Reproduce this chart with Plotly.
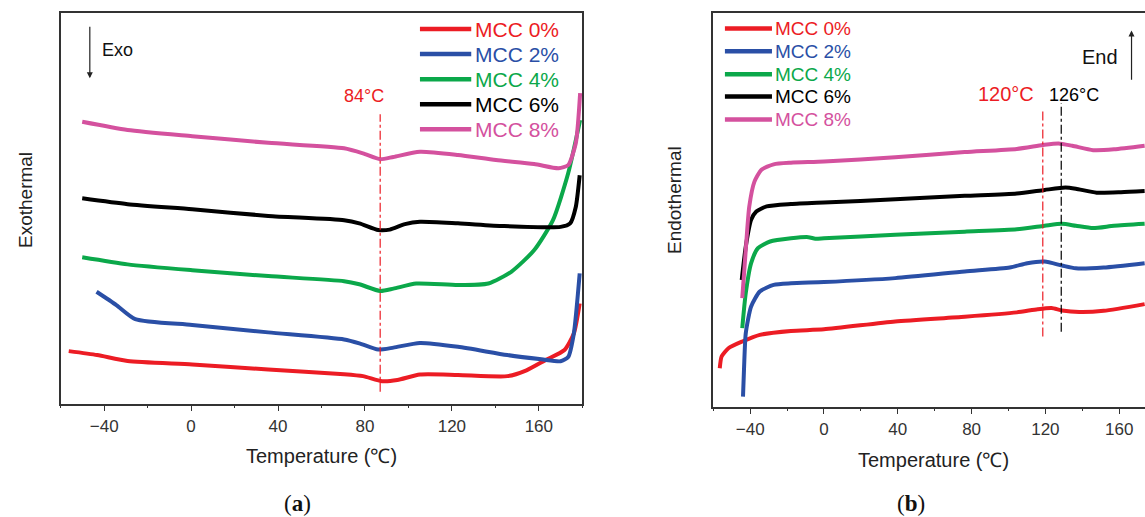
import plotly.graph_objects as go

W, H = 1145, 517

series_names = ["MCC 0%", "MCC 2%", "MCC 4%", "MCC 6%", "MCC 8%"]
colors = ["#EC1C24", "#2A4FA6", "#0BA84A", "#000000", "#D4519E"]

# ---- Panel (a): exothermal (cooling) curves, arbitrary units 0..100 ----
a_x = {
    "MCC 0%": [-56.3, -43.2, -29.2, 0.5, 35.5, 70.4, 79.1, 87.9, 94.9, 105.3, 122.8, 145.5, 154.3, 163, 171.8, 176.1, 178.8],
    "MCC 2%": [-43.5, -34.4, -25.7, 0.5, 35.5, 70.4, 77.4, 86.1, 93.1, 105.3, 122.8, 145.5, 161.2, 170, 173.5, 176.1, 178.8],
    "MCC 4%": [-50.1, -29.2, 0.5, 35.5, 70.4, 77.4, 87, 93.1, 103.6, 122.8, 136.8, 147.3, 157.8, 166.5, 173.5, 179],
    "MCC 6%": [-50.1, -29.2, 0.5, 35.5, 70.4, 77.4, 86.1, 91.4, 98.4, 105.3, 122.8, 143.8, 170, 174.4, 177, 178.8],
    "MCC 8%": [-50.1, -29.2, 0.5, 35.5, 70.4, 79.1, 87, 93.1, 105.3, 122.8, 140.3, 157.8, 169.1, 173.5, 177, 179],
}
a_y = {
    "MCC 0%": [13.4, 12.4, 10.9, 10.0, 8.7, 7.5, 7.0, 5.7, 6.0, 7.4, 7.3, 7.0, 8.5, 11.1, 13.7, 17.9, 25.6],
    "MCC 2%": [28.6, 25.2, 21.6, 20.1, 18.2, 16.4, 15.4, 13.8, 14.3, 15.5, 14.5, 12.4, 11.3, 10.8, 11.9, 17.9, 33.3],
    "MCC 4%": [37.4, 35.6, 34.1, 32.6, 31.3, 30.5, 28.8, 29.4, 30.7, 30.3, 30.7, 33.7, 39.2, 46.9, 58.9, 72.5],
    "MCC 6%": [52.5, 51.0, 49.7, 48.0, 46.9, 46.1, 44.4, 44.5, 45.9, 46.5, 46.1, 45.4, 45.2, 46.1, 50.3, 58.4],
    "MCC 8%": [72.1, 70.0, 68.4, 66.7, 65.3, 64.0, 62.5, 63.1, 64.4, 63.6, 62.3, 61.3, 60.2, 61.0, 66.6, 79.4],
}

# ---- Panel (b): endothermal (heating) curves ----
b_x = {
    "MCC 0%": [-56.5, -55.5, -51.8, -44.3, -34.8, -17.9, 0, 38.6, 76.3, 104.5, 115.8, 123.3, 129, 138.4, 151.6, 173.8],
    "MCC 2%": [-43.9, -43.3, -42.4, -39.5, -34.8, -27.3, -17.9, 0, 38.6, 76.3, 100.7, 110.2, 119.6, 129, 136.5, 151.6, 173.8],
    "MCC 4%": [-44.3, -42.4, -39.5, -35.8, -29.2, -17.9, -8.5, -4.7, 0, 38.6, 76.3, 104.5, 119.6, 129, 136.5, 145.9, 157.2, 173.8],
    "MCC 6%": [-44.6, -42.4, -39.5, -36.7, -31.1, -17.9, 0, 38.6, 76.3, 104.5, 119.6, 130.9, 136.5, 147.8, 161, 173.8],
    "MCC 8%": [-44.3, -42.4, -40.5, -37.7, -33.9, -27.3, -17.9, 0, 38.6, 76.3, 104.5, 118.6, 127.1, 134.6, 145.9, 157.2, 173.8],
}
b_y = {
    "MCC 0%": [9.7, 12.7, 14.8, 16.5, 18.2, 19.2, 19.6, 21.6, 22.8, 23.9, 24.7, 25.0, 24.4, 24.0, 24.3, 26.0],
    "MCC 2%": [2.5, 10.2, 18.6, 25.4, 29.2, 30.9, 31.3, 31.6, 32.6, 34.3, 35.3, 36.4, 36.8, 35.8, 35.1, 35.3, 36.4],
    "MCC 4%": [19.9, 28.8, 36.4, 40.2, 41.9, 42.7, 43.0, 42.6, 42.7, 43.6, 44.4, 45.0, 45.9, 46.4, 45.9, 45.3, 45.9, 46.4],
    "MCC 6%": [32.1, 40.6, 47.4, 49.5, 50.8, 51.4, 51.8, 52.6, 53.5, 54.1, 55.0, 55.6, 55.3, 54.3, 54.4, 54.7],
    "MCC 8%": [27.5, 39.8, 50.8, 57.1, 60.1, 61.5, 61.9, 62.2, 63.3, 64.6, 65.4, 66.4, 66.8, 66.2, 65.1, 65.3, 66.2],
}

x_ticks = [-40, 0, 40, 80, 120, 160]
a_peak = 87      # dash-dot marker position in (a), labelled 84°C
b_peak_red = 118.6
b_peak_black = 128.6

# legend geometry in data units
a_leg_x = [105.3, 128.9]
a_leg_y = [95.8, 89.4, 83.0, 76.6, 70.2]
b_leg_x = [-53.7, -28.2]
b_leg_y = [96.0, 90.2, 84.4, 78.7, 72.9]

fig = go.Figure()
for n, c in zip(series_names, colors):
    fig.add_trace(go.Scatter(x=a_x[n], y=a_y[n], mode="lines", line=dict(color=c, width=4, shape="spline", smoothing=0.6),
                             xaxis="x", yaxis="y", showlegend=False, hoverinfo="skip"))
    fig.add_trace(go.Scatter(x=b_x[n], y=b_y[n], mode="lines", line=dict(color=c, width=4, shape="spline", smoothing=0.6),
                             xaxis="x2", yaxis="y2", showlegend=False, hoverinfo="skip"))

FONT = "Liberation Sans, Arial, sans-serif"
AX = "#333333"

def xaxis(domain, rng, mirror):
    return dict(domain=domain, range=rng, tickvals=x_ticks, ticks="outside", ticklen=6, tickwidth=1.3,
                tickcolor=AX, showline=True, linecolor=AX, linewidth=1.5, mirror=mirror, showgrid=False,
                zeroline=False, tickfont=dict(family=FONT, size=17, color="#333333"),
                minor=dict(dtick=20, tick0=0, ticks="outside", ticklen=3, tickcolor=AX, tickwidth=1.3, showgrid=False))

def yaxis(domain, anchor, mirror):
    return dict(domain=domain, range=[0, 100], anchor=anchor, showticklabels=False, ticks="", showline=True,
                linecolor=AX, linewidth=1.5, mirror=mirror, showgrid=False, zeroline=False)

xa0, xa1 = 60.7 / W, 582.3 / W
xb0 = 713.3 / W
fig.update_layout(
    width=W, height=H, margin=dict(l=0, r=0, t=0, b=0),
    paper_bgcolor="white", plot_bgcolor="white",
    xaxis=dict(xaxis([xa0, xa1], [-60, 180], True), anchor="y"),
    yaxis=yaxis([1 - 403.5 / H, 1 - 12.7 / H], "x", True),
    xaxis2=dict(xaxis([xb0, 1.0], [-60, 174], True), anchor="y2"),
    yaxis2=yaxis([1 - 406.5 / H, 1 - 12.7 / H], "x2", False),
)

shapes = []
annots = []
# legends
for i, (n, c) in enumerate(zip(series_names, colors)):
    shapes.append(dict(type="line", xref="x", yref="y", x0=a_leg_x[0], x1=a_leg_x[1], y0=a_leg_y[i], y1=a_leg_y[i],
                       line=dict(color=c, width=4.5)))
    annots.append(dict(xref="x", yref="y", x=a_leg_x[1] + 0.8, y=a_leg_y[i], text=n, showarrow=False,
                       xanchor="left", yanchor="middle", font=dict(family=FONT, size=21, color=c)))
    shapes.append(dict(type="line", xref="x2", yref="y2", x0=b_leg_x[0], x1=b_leg_x[1], y0=b_leg_y[i], y1=b_leg_y[i],
                       line=dict(color=c, width=4.5)))
    annots.append(dict(xref="x2", yref="y2", x=b_leg_x[1] + 0.8, y=b_leg_y[i], text=n, showarrow=False,
                       xanchor="left", yanchor="middle", font=dict(family=FONT, size=19, color=c)))

# dash-dot markers
shapes.append(dict(type="line", xref="x", yref="y", x0=a_peak, x1=a_peak, y0=3, y1=74,
                   line=dict(color="#EC1C24", width=1.2, dash="dashdot")))
shapes.append(dict(type="line", xref="x2", yref="y2", x0=b_peak_red, x1=b_peak_red, y0=17.8, y1=75.7,
                   line=dict(color="#EC1C24", width=1.2, dash="dashdot")))
shapes.append(dict(type="line", xref="x2", yref="y2", x0=b_peak_black, x1=b_peak_black, y0=19.0, y1=77.0,
                   line=dict(color="#000000", width=1.2, dash="dashdot")))
annots.append(dict(xref="x", yref="y", x=79.5, y=75.5, text="84°C", showarrow=False, xanchor="center", yanchor="bottom",
                   font=dict(family=FONT, size=18, color="#EC1C24")))
annots.append(dict(xref="x2", yref="y2", x=98.9, y=79.4, text="120°C", showarrow=False, xanchor="center", yanchor="middle",
                   font=dict(family=FONT, size=20, color="#EC1C24")))
annots.append(dict(xref="x2", yref="y2", x=135.6, y=79.1, text="126°C", showarrow=False, xanchor="center", yanchor="middle",
                   font=dict(family=FONT, size=18, color="#000000")))

# Exo / End arrows
annots.append(dict(xref="x", yref="y", x=-46.6, y=83.2, ax=-46.6, ay=96.8, axref="x", ayref="y", text="",
                   showarrow=True, arrowhead=2, arrowsize=1, arrowwidth=1.2, arrowcolor="#222222"))
annots.append(dict(xref="x", yref="y", x=-42, y=90.4, text="Exo", showarrow=False, xanchor="left", yanchor="middle",
                   font=dict(family=FONT, size=18, color="#111111")))
annots.append(dict(xref="x2", yref="y2", x=166.7, y=95.5, ax=166.7, ay=82.6, axref="x2", ayref="y2", text="",
                   showarrow=True, arrowhead=2, arrowsize=1, arrowwidth=1.2, arrowcolor="#222222"))
annots.append(dict(xref="x2", yref="y2", x=149.7, y=88.8, text="End", showarrow=False, xanchor="center", yanchor="middle",
                   font=dict(family=FONT, size=20, color="#111111")))

# axis titles and panel labels
annots.append(dict(xref="paper", yref="paper", x=25 / W, y=1 - 200 / H, text="Exothermal", textangle=-90, showarrow=False,
                   xanchor="center", yanchor="middle", font=dict(family=FONT, size=19, color="#222222")))
annots.append(dict(xref="paper", yref="paper", x=674 / W, y=1 - 200 / H, text="Endothermal", textangle=-90, showarrow=False,
                   xanchor="center", yanchor="middle", font=dict(family=FONT, size=19, color="#222222")))
annots.append(dict(xref="paper", yref="paper", x=321.5 / W, y=1 - 456 / H, text="Temperature (℃)", showarrow=False,
                   xanchor="center", yanchor="middle", font=dict(family=FONT, size=20, color="#222222")))
annots.append(dict(xref="paper", yref="paper", x=933 / W, y=1 - 460 / H, text="Temperature (℃)", showarrow=False,
                   xanchor="center", yanchor="middle", font=dict(family=FONT, size=20, color="#222222")))
annots.append(dict(xref="paper", yref="paper", x=298 / W, y=1 - 503 / H, text="(<b>a</b>)", showarrow=False,
                   xanchor="center", yanchor="middle",
                   font=dict(family="Liberation Serif, Times New Roman, serif", size=23, color="#111111")))
annots.append(dict(xref="paper", yref="paper", x=911 / W, y=1 - 503 / H, text="(<b>b</b>)", showarrow=False,
                   xanchor="center", yanchor="middle",
                   font=dict(family="Liberation Serif, Times New Roman, serif", size=23, color="#111111")))

fig.update_layout(shapes=shapes, annotations=annots)
fig.write_html("out.html")
